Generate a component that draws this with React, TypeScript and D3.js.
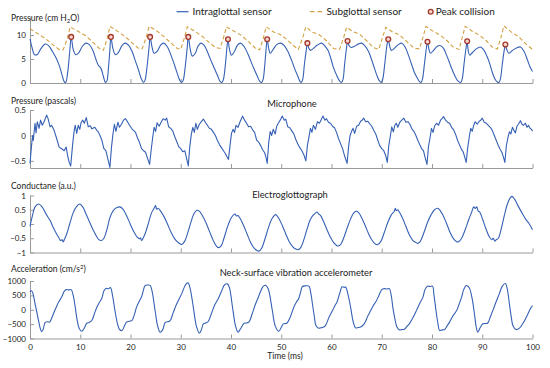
import { useRef, useEffect } from "react"
import * as d3 from "d3"

type Pt = [number, number]

const timeTicks = [0, 10, 20, 30, 40, 50, 60, 70, 80, 90, 100]

// intraglottal pressure (cm H2O)
const intraglottal: Pt[] = [
  [0, 9.2], [0.4, 7.4], [0.9, 5.9], [1.5, 6.0], [2.2, 7.2], [3.0, 8.1], [3.7, 7.8], [4.5, 6.5], [5.3, 5.0], [5.9, 3.4], [6.4, 1.6], [6.8, 0.3], [7.1, 0.1], [7.5, 2.2], [7.9, 6.5], [8.2, 9.6],
  [8.6, 7.0], [9.1, 5.9], [9.7, 6.3], [10.4, 7.6], [11.1, 8.3], [11.8, 8.0], [12.5, 6.8], [13.1, 5.0], [13.6, 3.7], [14.1, 3.1], [14.6, 1.4], [15.0, 0.1], [15.3, 0.4], [15.6, 3.0], [15.9, 7.0], [16.1, 9.6],
  [16.5, 7.2], [17.0, 5.9], [17.6, 6.4], [18.3, 7.8], [18.9, 8.3], [19.6, 7.9], [20.3, 6.6], [21.0, 4.5], [21.6, 2.7], [22.1, 1.0], [22.6, 0.1], [22.9, 0.6], [23.3, 3.5], [23.7, 7.5], [23.9, 9.6],
  [24.3, 7.4], [24.7, 6.2], [25.3, 6.6], [26.0, 7.9], [26.6, 8.3], [27.3, 7.6], [28.2, 5.4], [28.8, 3.6], [29.3, 2.0], [29.8, 0.6], [30.2, 0.1], [30.5, 0.6], [30.9, 3.5], [31.3, 7.5], [31.5, 9.6],
  [31.9, 7.0], [32.3, 5.6], [32.9, 6.2], [33.4, 7.6], [34.0, 8.3], [34.7, 7.8], [35.5, 6.0], [36.2, 4.2], [36.8, 2.8], [37.3, 1.6], [37.8, 0.4], [38.2, 0.1], [38.5, 0.8], [38.9, 4.0], [39.2, 7.5], [39.4, 9.1],
  [39.7, 7.0], [40.1, 5.8], [40.7, 6.6], [41.3, 7.9], [41.9, 8.3], [42.6, 7.6], [43.3, 6.2], [44.0, 4.4], [44.6, 2.9], [45.2, 1.5], [45.7, 0.4], [46.1, 0.1], [46.4, 0.8], [46.7, 3.5], [47.0, 7.2], [47.2, 9.1],
  [47.5, 7.2], [47.8, 6.2], [48.4, 7.0], [49.1, 8.0], [49.9, 8.3], [50.6, 7.8], [51.3, 6.6], [52.1, 4.6], [52.7, 2.9], [53.3, 1.4], [53.7, 0.4], [54.0, 0.1], [54.3, 0.9], [54.6, 3.8], [55.0, 7.0], [55.2, 8.3],
  [55.5, 7.2], [55.8, 6.8], [56.3, 7.1], [57.2, 7.9], [58.0, 8.3], [58.7, 7.7], [59.3, 6.8], [59.9, 5.0], [60.4, 3.2], [60.9, 1.9], [61.5, 0.6], [62.0, 0.1], [62.3, 0.8], [62.6, 3.8], [63.0, 7.4], [63.2, 8.75],
  [63.5, 7.8], [63.9, 7.4], [64.5, 7.6], [65.3, 8.1], [66.0, 8.3], [66.7, 7.7], [67.4, 6.5], [68.0, 4.8], [68.5, 3.2], [69.0, 1.7], [69.5, 0.5], [69.9, 0.1], [70.2, 0.8], [70.6, 4.0], [71.0, 7.6], [71.3, 9.1],
  [71.6, 7.6], [71.9, 6.8], [72.5, 7.2], [73.3, 8.0], [74.0, 8.3], [74.7, 7.4], [75.3, 5.8], [75.9, 4.0], [76.5, 2.2], [77.1, 1.0], [77.5, 0.3], [77.8, 0.1], [78.1, 0.8], [78.5, 4.0], [78.9, 7.4], [79.1, 8.6],
  [79.4, 7.0], [79.7, 6.2], [80.3, 6.8], [81.0, 7.6], [81.6, 7.8], [82.3, 7.2], [82.9, 5.8], [83.5, 4.2], [84.0, 2.8], [84.5, 1.6], [85.1, 0.5], [85.7, 0.1], [86.0, 0.8], [86.4, 4.2], [86.8, 7.5], [87.0, 8.7],
  [87.2, 6.8], [87.5, 5.8], [88.0, 6.3], [88.8, 7.1], [89.6, 7.5], [90.3, 6.9], [91.0, 5.4], [91.5, 4.0], [92.0, 2.2], [92.5, 0.9], [93.0, 0.2], [93.3, 0.1], [93.6, 0.8], [94.0, 4.0], [94.4, 7.0], [94.6, 8.0],
  [94.9, 6.9], [95.3, 6.2], [95.9, 6.7], [96.8, 7.3], [97.6, 7.5], [98.3, 6.6], [99.0, 4.8], [99.5, 3.4], [100, 2.4],
]

// subglottal pressure (cm H2O)
const subglottal: Pt[] = [
  [0, 11.3], [1.5, 10.3], [3.0, 9.3], [4.5, 8.0], [5.8, 7.0], [6.6, 6.9], [7.4, 9.2], [8.0, 11.7],
  [9.5, 10.8], [11.0, 9.9], [12.5, 8.5], [13.8, 7.2], [14.6, 6.8], [15.3, 9.0], [15.9, 11.8],
  [17.4, 10.8], [18.9, 9.7], [20.4, 8.3], [21.5, 7.3], [22.3, 7.1], [23.1, 9.4], [23.7, 11.8],
  [25.2, 10.9], [26.7, 9.6], [28.2, 8.2], [29.3, 7.2], [30.0, 7.0], [30.7, 9.3], [31.3, 11.7],
  [32.8, 10.8], [34.3, 9.7], [35.8, 8.3], [36.9, 7.4], [37.8, 7.2], [38.5, 9.4], [39.1, 11.7],
  [40.6, 10.8], [42.1, 9.9], [43.6, 8.5], [44.8, 7.3], [45.7, 6.9], [46.4, 9.2], [47.0, 11.7],
  [48.5, 10.6], [49.8, 10.1], [51.2, 9.0], [52.4, 7.8], [53.4, 7.0], [54.2, 9.2], [54.9, 11.7],
  [56.2, 10.6], [57.5, 10.1], [59.0, 8.8], [60.4, 7.2], [61.6, 7.0], [62.4, 9.4], [63.0, 11.6],
  [64.3, 10.7], [65.6, 10.2], [67.0, 8.8], [68.3, 7.4], [69.4, 7.0], [70.1, 9.3], [70.8, 11.6],
  [72.2, 10.6], [73.6, 10.0], [75.0, 8.6], [76.4, 7.3], [77.5, 7.1], [78.2, 9.5], [78.8, 11.8],
  [80.2, 10.8], [81.6, 10.0], [83.0, 8.8], [84.3, 7.4], [85.4, 7.0], [86.0, 9.4], [86.6, 11.8],
  [88.0, 10.8], [89.4, 10.0], [90.8, 8.8], [92.0, 7.5], [93.0, 7.1], [93.7, 9.4], [94.3, 11.9],
  [95.8, 10.6], [97.2, 9.7], [98.6, 8.2], [100, 7.0],
]

const peakCollisions: Pt[] = [
  [8.2, 9.6], [16.1, 9.6], [23.9, 9.6], [31.5, 9.6], [39.4, 9.1], [47.2, 9.1],
  [55.2, 8.3], [63.2, 8.75], [71.3, 9.1], [79.1, 8.6], [87.0, 8.7], [94.6, 8.0],
]

// microphone (pascals)
const microphone: Pt[] = [
  [0, -0.55], [0.3, -0.21], [0.5, 0.0], [0.65, -0.1], [1.0, 0.24], [1.2, 0.05], [1.45, 0.27], [1.8, 0.14], [2.1, 0.3], [2.45, 0.2], [2.8, 0.27], [3.3, 0.4], [3.6, 0.33], [4.0, 0.17], [4.3, 0.2], [4.8, 0.1], [5.3, -0.06], [5.8, -0.23], [6.3, -0.26], [6.8, -0.3], [7.2, -0.23], [7.5, -0.4], [7.8, -0.53], [8.1, -0.6],
  [8.5, -0.16], [8.8, 0.1], [9.0, 0.2], [9.3, 0.04], [9.6, 0.2], [9.9, 0.12], [10.2, 0.26], [10.5, 0.3], [10.8, 0.24], [11.2, 0.35], [11.6, 0.17], [12.0, 0.19], [12.3, 0.13], [12.9, 0.16], [13.3, 0.1], [13.6, 0.07], [14.0, -0.02], [14.3, -0.09], [14.7, -0.26], [15.1, -0.3], [15.4, -0.42], [15.9, -0.63],
  [16.2, -0.25], [16.5, 0.02], [16.8, 0.22], [17.1, 0.08], [17.5, 0.26], [17.8, 0.16], [18.2, 0.22], [18.6, 0.3], [19.0, 0.33], [19.4, 0.27], [19.8, 0.2], [20.2, 0.14], [20.6, 0.1], [21.0, 0.06], [21.4, -0.05], [21.8, -0.14], [22.2, -0.26], [22.6, -0.3], [23.0, -0.33], [23.3, -0.42], [23.8, -0.57],
  [24.1, -0.3], [24.4, -0.05], [24.7, 0.16], [25.0, 0.08], [25.3, 0.25], [25.7, 0.18], [26.1, 0.26], [26.5, 0.33], [26.9, 0.3], [27.2, 0.34], [27.6, 0.17], [28.0, 0.14], [28.4, 0.09], [28.8, -0.02], [29.2, -0.12], [29.6, -0.22], [30.0, -0.26], [30.4, -0.32], [30.8, -0.3], [31.1, -0.42], [31.5, -0.6],
  [31.8, -0.22], [32.1, 0.02], [32.4, 0.16], [32.7, 0.06], [33.0, 0.24], [33.3, 0.12], [33.7, 0.22], [34.1, 0.27], [34.5, 0.32], [34.9, 0.26], [35.3, 0.2], [35.7, 0.14], [36.1, 0.12], [36.5, 0.06], [36.9, 0.0], [37.3, -0.1], [37.7, -0.18], [38.1, -0.24], [38.5, -0.3], [38.9, -0.36], [39.2, -0.42], [39.5, -0.47],
  [39.8, -0.2], [40.1, 0.04], [40.4, 0.12], [40.7, 0.06], [41.0, 0.2], [41.4, 0.16], [41.8, 0.27], [42.3, 0.38], [42.7, 0.3], [43.1, 0.24], [43.5, 0.17], [43.9, 0.18], [44.3, 0.11], [44.7, 0.06], [45.1, -0.09], [45.5, -0.13], [45.9, -0.2], [46.3, -0.28], [46.7, -0.34], [47.0, -0.44], [47.2, -0.55],
  [47.5, -0.15], [47.8, 0.08], [48.1, 0.0], [48.4, 0.12], [48.8, 0.03], [49.1, 0.18], [49.4, 0.24], [49.8, 0.3], [50.2, 0.38], [50.6, 0.3], [50.9, 0.32], [51.3, 0.17], [51.7, 0.15], [52.1, 0.09], [52.5, 0.03], [52.9, -0.08], [53.3, -0.17], [53.7, -0.24], [54.1, -0.3], [54.5, -0.38], [54.9, -0.5],
  [55.2, -0.2], [55.5, -0.04], [55.8, 0.14], [56.1, 0.06], [56.4, 0.2], [56.8, 0.12], [57.2, 0.27], [57.6, 0.24], [58.0, 0.32], [58.3, 0.38], [58.7, 0.3], [59.0, 0.33], [59.4, 0.26], [59.8, 0.24], [60.2, 0.18], [60.6, 0.15], [61.0, 0.06], [61.4, -0.06], [61.8, -0.16], [62.2, -0.26], [62.6, -0.4], [63.1, -0.55],
  [63.4, -0.22], [63.7, 0.0], [64.0, 0.08], [64.3, 0.14], [64.6, 0.04], [65.0, 0.18], [65.4, 0.2], [65.8, 0.28], [66.1, 0.3], [66.4, 0.34], [66.8, 0.27], [67.2, 0.28], [67.6, 0.23], [68.0, 0.18], [68.4, 0.1], [68.8, 0.03], [69.2, -0.09], [69.6, -0.2], [70.0, -0.26], [70.4, -0.3], [70.8, -0.4], [71.1, -0.53],
  [71.4, -0.2], [71.7, -0.02], [72.0, 0.17], [72.3, 0.07], [72.6, 0.2], [72.9, 0.24], [73.2, 0.16], [73.6, 0.26], [74.0, 0.3], [74.4, 0.34], [74.8, 0.26], [75.2, 0.27], [75.6, 0.22], [76.0, 0.13], [76.4, 0.08], [76.8, 0.0], [77.2, -0.1], [77.6, -0.19], [78.0, -0.27], [78.3, -0.3], [78.6, -0.42], [79.0, -0.57],
  [79.3, -0.22], [79.6, -0.05], [79.9, 0.14], [80.2, 0.06], [80.5, 0.18], [80.9, 0.24], [81.3, 0.2], [81.7, 0.3], [82.0, 0.33], [82.3, 0.37], [82.7, 0.3], [83.1, 0.26], [83.5, 0.24], [83.9, 0.16], [84.3, 0.11], [84.7, 0.02], [85.1, -0.1], [85.5, -0.19], [85.9, -0.28], [86.2, -0.32], [86.5, -0.42], [86.8, -0.53],
  [87.1, -0.25], [87.4, -0.04], [87.7, 0.14], [88.0, 0.08], [88.3, 0.2], [88.6, 0.27], [89.0, 0.22], [89.4, 0.28], [89.7, 0.3], [90.0, 0.34], [90.4, 0.26], [90.8, 0.24], [91.2, 0.2], [91.6, 0.16], [92.0, 0.1], [92.4, 0.0], [92.8, -0.1], [93.2, -0.2], [93.6, -0.28], [93.9, -0.33], [94.2, -0.42], [94.5, -0.53],
  [94.8, -0.2], [95.1, -0.05], [95.4, 0.07], [95.7, 0.03], [96.0, 0.16], [96.3, 0.1], [96.6, 0.05], [96.9, 0.18], [97.2, 0.22], [97.6, 0.29], [97.9, 0.22], [98.2, 0.2], [98.6, 0.24], [98.9, 0.16], [99.2, 0.2], [99.5, 0.14], [99.8, 0.12], [100, 0.08],
]

// electroglottograph conductance (a.u.)
const egg: Pt[] = [
  [0, -0.08], [0.5, 0.3], [1.0, 0.6], [1.7, 0.7], [2.4, 0.6], [3.2, 0.35], [4.0, 0.12], [4.7, -0.15], [5.3, -0.35], [5.8, -0.5], [6.1, -0.58], [6.4, -0.55], [6.6, -0.63], [6.9, -0.52], [7.3, -0.35], [7.9, 0.0],
  [8.6, 0.4], [9.3, 0.62], [9.9, 0.7], [10.5, 0.6], [11.2, 0.33], [11.9, 0.05], [12.6, -0.22], [13.2, -0.42], [13.7, -0.55], [14.2, -0.58], [14.7, -0.5], [15.3, -0.2],
  [15.9, 0.22], [16.6, 0.48], [17.3, 0.58], [17.9, 0.6], [18.5, 0.52], [19.2, 0.3], [19.9, 0.02], [20.6, -0.25], [21.3, -0.45], [21.8, -0.52], [22.0, -0.48], [22.2, -0.58], [22.5, -0.5], [23.0, -0.3],
  [23.6, 0.05], [24.2, 0.4], [24.7, 0.55], [25.0, 0.65], [25.2, 0.52], [25.5, 0.55], [26.0, 0.45], [26.7, 0.25], [27.4, -0.02], [28.1, -0.3], [28.8, -0.52], [29.5, -0.65], [30.2, -0.72], [30.8, -0.6], [31.4, -0.3],
  [32.0, 0.05], [32.6, 0.35], [33.2, 0.48], [33.7, 0.45], [34.3, 0.3], [35.0, 0.05], [35.7, -0.25], [36.4, -0.55], [37.0, -0.75], [37.5, -0.83], [38.0, -0.78], [38.6, -0.5], [39.3, -0.1],
  [40.0, 0.2], [40.5, 0.32], [40.8, 0.35], [41.1, 0.28], [41.4, 0.3], [41.8, 0.2], [42.5, -0.05], [43.2, -0.35], [43.9, -0.65], [44.6, -0.85], [45.2, -0.93], [45.6, -0.95], [46.1, -0.85], [46.8, -0.5], [47.5, -0.1],
  [48.2, 0.2], [48.9, 0.33], [49.5, 0.2], [50.2, -0.05], [50.9, -0.35], [51.6, -0.62], [52.3, -0.8], [52.9, -0.88], [53.4, -0.9], [53.9, -0.82], [54.5, -0.55], [55.1, -0.2],
  [55.7, 0.12], [56.3, 0.3], [56.8, 0.38], [57.1, 0.42], [57.4, 0.36], [57.8, 0.3], [58.4, 0.1], [59.1, -0.2], [59.8, -0.47], [60.5, -0.67], [61.2, -0.77], [61.8, -0.72], [62.4, -0.5], [63.1, -0.15],
  [63.8, 0.18], [64.4, 0.38], [64.9, 0.45], [65.4, 0.4], [66.0, 0.22], [66.7, -0.05], [67.4, -0.35], [68.1, -0.58], [68.7, -0.7], [69.2, -0.72], [69.8, -0.62], [70.5, -0.3],
  [71.2, 0.05], [71.9, 0.32], [72.5, 0.45], [72.7, 0.55], [72.9, 0.47], [73.2, 0.5], [73.5, 0.42], [74.1, 0.22], [74.8, -0.08], [75.5, -0.38], [76.2, -0.58], [76.8, -0.65], [77.2, -0.68], [77.7, -0.6], [78.4, -0.3],
  [79.1, 0.05], [79.8, 0.32], [80.5, 0.5], [81.1, 0.55], [81.6, 0.48], [82.2, 0.3], [82.9, 0.02], [83.6, -0.3], [84.3, -0.52], [84.9, -0.62], [85.3, -0.62], [85.9, -0.5], [86.6, -0.2],
  [87.3, 0.15], [87.9, 0.42], [88.3, 0.6], [88.6, 0.55], [88.9, 0.6], [89.2, 0.45], [89.5, 0.42], [90.0, 0.2], [90.7, -0.15], [91.4, -0.45], [91.9, -0.55], [92.2, -0.5], [92.5, -0.6], [92.8, -0.55], [93.2, -0.5], [93.8, -0.15],
  [94.4, 0.3], [95.0, 0.7], [95.5, 0.9], [95.9, 0.97], [96.4, 0.88], [97.0, 0.68], [97.9, 0.39], [98.6, 0.18], [99.3, 0.02], [100, -0.2],
]

// neck-surface acceleration (cm/s^2)
const acceleration: Pt[] = [
  [0, 620], [0.3, 660], [0.6, 560], [1.0, 210], [1.4, -120], [1.7, -380], [2.0, -620], [2.3, -760], [2.6, -690], [3.0, -450], [3.4, -420], [3.9, -430], [4.3, -300], [4.7, -120], [5.2, 80], [5.7, 270], [6.3, 440], [6.8, 640], [7.2, 700], [7.7, 690], [8.2, 700], [8.6, 500],
  [9.0, 90], [9.4, -380], [9.8, -650], [10.3, -750], [10.8, -640], [11.3, -470], [11.8, -440], [12.3, -375], [12.8, -150], [13.3, 90], [13.8, 250], [14.3, 400], [14.7, 650], [15.1, 740], [15.6, 730], [16.0, 770], [16.4, 520],
  [16.9, -20], [17.4, -480], [17.8, -680], [18.3, -725], [18.8, -560], [19.2, -430], [19.8, -400], [20.3, -370], [20.8, -150], [21.2, 90], [21.7, 280], [22.2, 450], [22.6, 700], [22.9, 840], [23.4, 860], [23.9, 850], [24.3, 640],
  [24.9, -35], [25.4, -560], [25.9, -780], [26.4, -700], [26.9, -440], [27.4, -420], [27.9, -380], [28.5, -100], [29.2, 210], [29.7, 380], [30.2, 560], [30.8, 820], [31.2, 920], [31.5, 930], [31.9, 720],
  [32.5, 90], [33.1, -560], [33.7, -815], [34.1, -700], [34.5, -490], [35.0, -460], [35.5, -400], [36.1, -130], [36.8, 180], [37.5, 400], [38.2, 680], [38.7, 860], [39.3, 900], [39.7, 760],
  [40.3, 90], [40.9, -560], [41.4, -780], [41.9, -660], [42.6, -470], [43.1, -460], [43.6, -420], [44.2, -150], [44.9, 210], [45.4, 420], [45.9, 640], [46.4, 810], [46.9, 850], [47.4, 730],
  [48.2, 0], [48.8, -560], [49.5, -750], [50.0, -620], [50.4, -490], [51.1, -470], [51.8, -250], [52.5, 90], [53.0, 260], [53.5, 400], [53.9, 650], [54.2, 810], [54.8, 830], [55.5, 820], [55.9, 560],
  [56.2, 210], [56.6, -250], [56.9, -550], [57.4, -640], [57.8, -630], [58.2, -620], [58.8, -550], [59.5, -260], [60.2, -30], [60.7, 150], [61.1, 270], [61.6, 550], [62.1, 800], [62.5, 780], [62.8, 790], [63.3, 520],
  [63.8, 90], [64.3, -400], [64.8, -630], [65.3, -620], [65.8, -600], [66.5, -490], [67.2, -230], [67.8, -30], [68.3, 140], [68.8, 270], [69.4, 480], [70.0, 700], [70.5, 735], [71.0, 720], [71.5, 735], [71.9, 480],
  [72.2, 90], [72.6, -300], [73.0, -590], [73.5, -700], [74.0, -690], [74.5, -680], [75.0, -580], [75.5, -490], [76.2, -280], [76.9, -30], [77.5, 200], [78.2, 440], [78.6, 700], [79.1, 820], [79.6, 810], [80.1, 820], [80.4, 500],
  [80.8, -35], [81.2, -500], [81.5, -720], [82.0, -700], [82.5, -690], [83.0, -560], [83.5, -430], [84.2, -200], [84.9, -30], [85.4, 200], [85.9, 440], [86.3, 700], [86.8, 840], [87.2, 810], [87.5, 735],
  [88.0, 380], [88.5, -220], [88.8, -600], [89.1, -780], [89.6, -620], [90.1, -490], [90.6, -480], [91.1, -460], [91.6, -250], [92.1, -30], [92.7, 250], [93.4, 560], [94.0, 820], [94.6, 910], [95.0, 700],
  [95.4, 210], [95.8, -280], [96.1, -550], [96.7, -690], [97.4, -640], [98.1, -470], [98.6, -320], [99.1, -140], [99.6, 40], [100, 150],
]

const pressureTicks = [0, 5, 10]
const micTicks = [-0.5, 0, 0.5]
const eggTicks = [-1, -0.5, 0, 0.5, 1]
const accelTicks = [-1000, -500, 0, 500, 1000]

const legendLabels = ["Intraglottal sensor", "Subglottal sensor", "Peak collision"]

export default function App() {
  const svgRef = useRef<SVGSVGElement>(null)

  function drawChart() {
    const width = 550
    const height = 368
    const font = "Lato, 'Open Sans', sans-serif"
    const blue = "#3560b4"
    const orange = "#d2a040"
    const axisColor = "#9a9a9a"
    const textColor = "#222"
    const markerFill = "#f9d6cf"
    const markerStroke = "#a2382a"

    const svg = d3.select(svgRef.current).attr("width", width).attr("height", height)
    svg.selectAll("*").remove()

    const x = d3.scaleLinear().domain([0, 100]).range([30, 532.5])

    const panels = [
      { data: intraglottal, y: d3.scaleLinear().domain([0, 13.75]).range([83, 17]), ticks: pressureTicks, curve: d3.curveCatmullRom, label: "p1" },
      { data: microphone, y: d3.scaleLinear().domain([-0.64, 0.5]).range([168, 110]), ticks: micTicks, curve: d3.curveLinear, label: "p2" },
      { data: egg, y: d3.scaleLinear().domain([-1, 1]).range([252.5, 195.5]), ticks: eggTicks, curve: d3.curveCatmullRom, label: "p3" },
      { data: acceleration, y: d3.scaleLinear().domain([-1000, 1000]).range([338.5, 281]), ticks: accelTicks, curve: d3.curveCatmullRom, label: "p4" },
    ]

    const fmt = (d: number) => String(d).replace("-", "\u2212")

    panels.forEach((p, i) => {
      const g = svg.append("g").attr("id", p.label)
      const [y0] = p.y.range()

      // x axis
      const xAxis = g
        .append("g")
        .attr("transform", `translate(0, ${y0})`)
        .call(
          d3
            .axisBottom(x)
            .tickValues(timeTicks)
            .tickSizeInner(-4)
            .tickSizeOuter(0)
            .tickPadding(6)
            .tickFormat((d) => (i === 3 ? String(d) : ""))
        )
      xAxis.select(".domain").attr("stroke", axisColor)
      xAxis.selectAll(".tick line").attr("stroke", axisColor)
      xAxis
        .selectAll(".tick text")
        .attr("fill", textColor)
        .style("font-size", "8px")
        .style("font-family", font)

      // y axis
      const yAxis = g
        .append("g")
        .attr("transform", "translate(30, 0)")
        .call(d3.axisLeft(p.y).tickValues(p.ticks).tickSizeInner(-4).tickSizeOuter(0).tickPadding(4).tickFormat((d) => fmt(d as number)))
      yAxis.select(".domain").attr("stroke", axisColor)
      yAxis.selectAll(".tick line").attr("stroke", axisColor)
      yAxis
        .selectAll(".tick text")
        .attr("fill", textColor)
        .style("font-size", "8px")
        .style("font-family", font)

      if (i === 0) {
        const sub = d3
          .line<Pt>()
          .x((d) => x(d[0]))
          .y((d) => p.y(d[1]))
        g.append("path")
          .datum(subglottal)
          .attr("d", sub)
          .attr("fill", "none")
          .attr("stroke", orange)
          .attr("stroke-width", 1.1)
          .attr("stroke-dasharray", "4,2.5")
      }

      const line = d3
        .line<Pt>()
        .x((d) => x(d[0]))
        .y((d) => p.y(d[1]))
        .curve(p.curve)
      g.append("path")
        .datum(p.data)
        .attr("d", line)
        .attr("fill", "none")
        .attr("stroke", blue)
        .attr("stroke-width", 1.1)
        .attr("stroke-linejoin", "round")

      if (i === 0) {
        g.selectAll("circle.peak")
          .data(peakCollisions)
          .enter()
          .append("circle")
          .attr("class", "peak")
          .attr("cx", (d) => x(d[0]))
          .attr("cy", (d) => p.y(d[1]))
          .attr("r", 2.4)
          .attr("fill", markerFill)
          .attr("stroke", markerStroke)
          .attr("stroke-width", 1.3)
      }
    })

    const text = (tx: number, ty: number, size: number, anchor = "start") =>
      svg
        .append("text")
        .attr("x", tx)
        .attr("y", ty)
        .attr("text-anchor", anchor)
        .attr("fill", textColor)
        .style("font-size", `${size}px`)
        .style("font-family", font)

    // y labels
    const l1 = text(11, 20.5, 8.5)
    l1.append("tspan").text("Pressure (cm H")
    l1.append("tspan").attr("dy", 2).style("font-size", "6px").text("2")
    l1.append("tspan").attr("dy", -2).text("O)")
    text(11, 104, 8.5).text("Pressure (pascals)")
    text(11, 189, 8.5).text("Conductane (a.u.)")
    const l4 = text(11, 272, 8.5)
    l4.append("tspan").text("Acceleration (cm/s")
    l4.append("tspan").attr("dy", -3).style("font-size", "6px").text("2")
    l4.append("tspan").attr("dy", 3).text(")")

    // titles
    text(292, 107, 9.3, "middle").text("Microphone")
    text(290, 198, 9.3, "middle").text("Electroglottograph")
    text(296, 276, 9.3, "middle").text("Neck-surface vibration accelerometer")
    text(285, 359, 8.5, "middle").text("Time (ms)")

    // legend
    const leg = svg.append("g").attr("id", "legend")
    const ly = 11.7
    leg.append("line").attr("x1", 176.5).attr("x2", 188.5).attr("y1", ly).attr("y2", ly).attr("stroke", blue).attr("stroke-width", 1.2)
    leg.append("line").attr("x1", 310).attr("x2", 322.5).attr("y1", ly).attr("y2", ly).attr("stroke", orange).attr("stroke-width", 1.2).attr("stroke-dasharray", "4.5,3")
    leg.append("circle").attr("cx", 430.7).attr("cy", ly).attr("r", 2.4).attr("fill", markerFill).attr("stroke", markerStroke).attr("stroke-width", 1.3)
    const lx = [192.5, 326.5, 435.7]
    leg
      .selectAll("text")
      .data(legendLabels)
      .enter()
      .append("text")
      .text((d) => d)
      .attr("x", (d, i) => lx[i])
      .attr("y", 15.2)
      .attr("fill", textColor)
      .style("font-size", "10px")
      .style("font-family", font)
  }

  useEffect(() => {
    drawChart()
  }, [svgRef])

  return (
    <div>
      <svg ref={svgRef} style={{ position: "absolute", left: 0, top: 0, background: "#fff" }}></svg>
    </div>
  )
}
